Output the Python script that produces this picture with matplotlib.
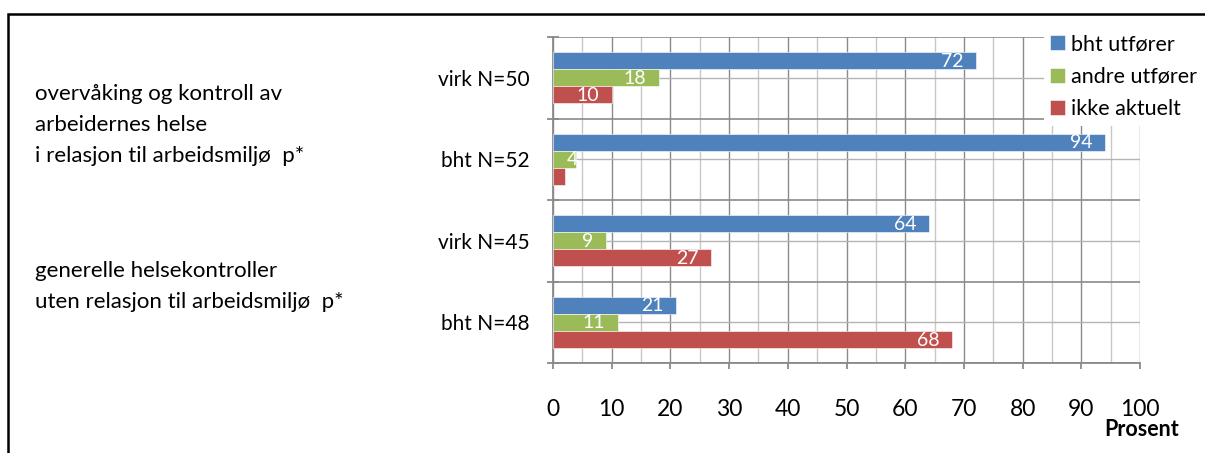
import numpy as np
import matplotlib.pyplot as plt
from matplotlib.patches import Rectangle
from matplotlib.ticker import MultipleLocator, FixedLocator

plt.rcParams['font.family'] = ['Lato', 'DejaVu Sans']

# data (prosent)
groups = ['virk N=50', 'bht N=52', 'virk N=45', 'bht N=48']
series = ['bht utfører', 'andre utfører', 'ikke aktuelt']
bht_utforer = [72, 94, 64, 21]
andre_utforer = [18, 4, 9, 11]
ikke_aktuelt = [10, 2, 27, 68]
labels_bht = ['72', '94', '64', '21']
labels_andre = ['18', '4', '9', '11']
labels_ikke = ['10', '', '27', '68']
colors = ['#4F81BD', '#9BBB59', '#C0504D']

left_texts = ['overvåking og kontroll av\narbeidernes helse\ni relasjon til arbeidsmiljø  p*',
              'generelle helsekontroller\nuten relasjon til arbeidsmiljø  p*']

W, H = 1205, 453
fig = plt.figure(figsize=(W / 100, H / 100), dpi=100)
ax = fig.add_axes([553 / W, 1 - 363 / H, (1140 - 553) / W, (363 - 37) / H])

y = np.arange(len(groups))
h = 0.21
vals = [bht_utforer, andre_utforer, ikke_aktuelt]
labs = [labels_bht, labels_andre, labels_ikke]
for i in range(3):
    bars = ax.barh(y + (i - 1) * h, vals[i], height=h, color=colors[i],
                   edgecolor='white', linewidth=0.4, label=series[i], zorder=3)
    for b, v, t in zip(bars, vals[i], labs[i]):
        if not t:
            continue
        yc = b.get_y() + b.get_height() / 2
        # narrow bars: label sits at the bar end
        off = 1 if v < 5 else -9
        ax.annotate(t, (v, yc), xytext=(off, -0.5), textcoords='offset points',
                    ha='right', va='center', color='white', fontsize=14, zorder=4)

ax.set_xlim(0, 100)
ax.set_ylim(3.5, -0.5)

ax.xaxis.set_major_locator(MultipleLocator(10))
ax.xaxis.set_minor_locator(MultipleLocator(5))
ax.set_yticks(y)
ax.set_yticklabels(groups)
ax.yaxis.set_minor_locator(FixedLocator([-0.5, 0.5, 1.5, 2.5, 3.5]))

ax.grid(which='major', axis='x', color='#8a8a8a', linewidth=1.0, zorder=0)
ax.grid(which='minor', axis='x', color='#c8c8c8', linewidth=1.0, zorder=0)
ax.grid(which='minor', axis='y', color='#8a8a8a', linewidth=1.2, zorder=0)
ax.grid(which='major', axis='y', color='#b4b4b4', linewidth=1.0, zorder=0)

for s in ['top', 'right']:
    ax.spines[s].set_visible(False)
for s in ['left', 'bottom']:
    ax.spines[s].set_color('#8a8a8a')
    ax.spines[s].set_linewidth(1.3)

ax.tick_params(axis='y', which='major', length=0, pad=17, labelsize=15)
ax.tick_params(axis='y', which='minor', direction='inout', length=8, color='#8a8a8a', width=1.3)
ax.tick_params(axis='x', which='major', direction='out', length=4, color='#8a8a8a',
               width=1.3, pad=22, labelsize=16.5)
ax.tick_params(axis='x', which='minor', length=0)

fig.text(1142 / W, 1 - 430 / H, 'Prosent', fontsize=15.5, fontweight='bold',
         ha='center', va='center')

fig.text(35 / W, 1 - 84 / H, left_texts[0], fontsize=16, ha='left', va='top', linespacing=1.7)
fig.text(35 / W, 1 - 261 / H, left_texts[1], fontsize=16, ha='left', va='top', linespacing=1.7)

leg = ax.legend(loc='upper left', bbox_to_anchor=(1033 / W, 1 - 17 / H),
                bbox_transform=fig.transFigure, fontsize=15.5, frameon=True,
                facecolor='white', edgecolor='none', framealpha=1, fancybox=False,
                handlelength=0.7, handleheight=0.7, handletextpad=0.25,
                labelspacing=0.58, borderpad=0.3)
leg.set_zorder(10)

fig.patches.append(Rectangle((8 / W, -0.1), 1.2, 1.1 - 13.5 / H, transform=fig.transFigure,
                             fill=False, edgecolor='black', linewidth=1.8))

fig.savefig('out.png', dpi=100)
